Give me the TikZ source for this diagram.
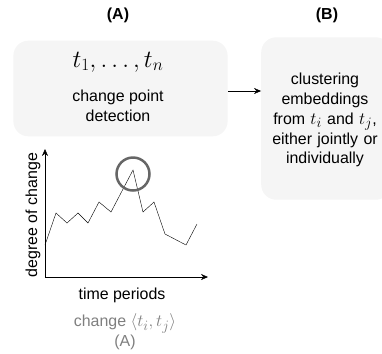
\documentclass[tikz,border=0pt]{standalone}
\usepackage{amsmath}
\usepackage{fontspec}
\setmainfont{Liberation Sans}
\usetikzlibrary{positioning}
\usetikzlibrary{arrows.meta}
\definecolor{boxgray}{HTML}{F5F5F5}
\definecolor{capgray}{HTML}{7F7F7F}
\definecolor{ringgray}{HTML}{666666}
\tikzset{stagebox/.style = {fill = boxgray, rounded corners = 15, inner sep = 0},
         txt/.style = {font = \fontsize{16}{20}\selectfont, align = center, inner sep = 0}}
\newcommand{\tmath}[1]{{\fontsize{19}{20}\selectfont$#1$}}

\begin{document}
\begin{tikzpicture}[x=1bp, y=-1bp, >={Stealth[length=7, width=6]}]
    \useasboundingbox (0,0) rectangle (382,354);
    % stage boxes
    \node[stagebox, minimum width = 215, minimum height = 96] (boxA) at (120.5,88.5) {};
    \node[stagebox, minimum width = 130, minimum height = 163] (boxB) at (326,118.5) {};
    \node[txt, font = \fontsize{16}{20}\selectfont\bfseries] (headA) at (118,15) {(A)};
    \node[txt, font = \fontsize{16}{20}\selectfont\bfseries] (headB) at (327,15) {(B)};
    \node[txt, font = \fontsize{23}{24}\selectfont] (times) at (118,62) {$t_1,\dots,t_n$};
    \node[txt] (detect) at (118,105.5) {change point\\detection};
    \node[txt, text width = 130] (cluster) at (325,120) {clustering\\embeddings\\from \tmath{t_i} and \tmath{t_j},\\either jointly or\\individually};
    \draw[->] (boxA.east) ++(0,2.5) coordinate (s) -- (s -| boxB.west);
    % chart
    \coordinate (o) at (45,277);
    \coordinate (ytop) at (45,149);
    \coordinate (xend) at (208,277);
    \draw[->] (o) -- (ytop);
    \draw[->] (o) -- (xend);
    \draw plot coordinates {(45,245) (56,213) (67,223) (78,213) (88,223) (99,202)
        (111,212) (133,170) (143,212) (154,202) (165,234) (186,245) (197,224)};
    \draw[ringgray, line width = 2.5] (133,174) circle (16.5);
    \node[txt, rotate = 90] (ylab) at (33,215) {degree of change};
    \node[txt] (xlab) at (122,295) {time periods};
    \node[txt, text = capgray] (cap) at (125,332) {change \tmath{\langle t_i,t_j\rangle}\\(A)};
\end{tikzpicture}
\end{document}
